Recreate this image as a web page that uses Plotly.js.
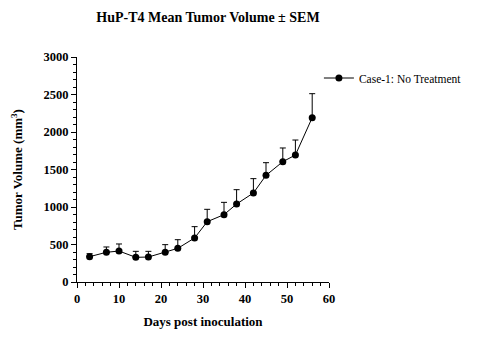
<!DOCTYPE html>
<html><head><meta charset="utf-8">
<script src="https://cdn.plot.ly/plotly-3.0.1.min.js"></script>
<style>html,body{margin:0;padding:0;background:#fff}</style>
</head><body>
<div id="chart" style="width:488px;height:352px"></div>
<script>
const days = [3, 7, 10, 14, 17, 21, 24, 28, 31, 35, 38, 42, 45, 49, 52, 56];
const meanVolume = [338, 396, 413, 329, 333, 396, 449, 587, 804, 898, 1040, 1187, 1422, 1604, 1693, 2191];
const semVolume = [40, 71, 94, 80, 76, 102, 115, 151, 165, 164, 191, 191, 169, 183, 200, 320];
const seriesName = 'Case-1: No Treatment';

const serif = 'Liberation Serif, Times New Roman, serif';
const trace = {
  x: days, y: meanVolume, name: seriesName, type: 'scatter', mode: 'lines+markers',
  line: {color: '#000', width: 1},
  marker: {color: '#000', size: 7, symbol: 'circle'},
  error_y: {type: 'data', array: semVolume, symmetric: false, arrayminus: semVolume.map(() => 0),
            color: '#000', thickness: 1, width: 3},
  showlegend: true
};
const layout = {
  width: 488, height: 352,
  margin: {l: 77, r: 159, t: 57, b: 70},
  paper_bgcolor: '#fff', plot_bgcolor: '#fff',
  font: {family: serif, color: '#000'},
  title: {text: '<b>HuP-T4 Mean Tumor Volume ± SEM</b>', font: {size: 14, family: serif, color: '#000'},
          x: 208/488, xanchor: 'center', y: 1 - 17/352, yanchor: 'middle'},
  xaxis: {range: [0, 60], dtick: 10, tick0: 0, showgrid: false, zeroline: false,
          showline: true, linecolor: '#000', linewidth: 1, ticks: 'outside', ticklen: 5, tickcolor: '#000',
          tickfont: {size: 12.5, family: serif}, tickprefix: '<b>', ticksuffix: '</b>',
          minor: {dtick: 2, ticks: 'outside', ticklen: 3, tickcolor: '#000', showgrid: false},
          title: {text: '<b>Days post inoculation</b>', font: {size: 13, family: serif}, standoff: 11}},
  yaxis: {range: [0, 3000], dtick: 500, tick0: 0, showgrid: false, zeroline: false,
          showline: true, linecolor: '#000', linewidth: 1, ticks: 'outside', ticklen: 5, tickcolor: '#000',
          tickfont: {size: 12.5, family: serif}, tickprefix: '<b>', ticksuffix: '</b>',
          minor: {dtick: 100, ticks: 'outside', ticklen: 3, tickcolor: '#000', showgrid: false},
          title: {text: '<b>Tumor Volume (mm<sup>3</sup>)</b>', font: {size: 13, family: serif}, standoff: 17}},
  legend: {x: 0.96, xanchor: 'left', y: 1 - 21/225, yanchor: 'middle', bgcolor: 'rgba(0,0,0,0)',
           font: {size: 11.5, family: serif, color: '#000'}}
};
Plotly.newPlot('chart', [trace], layout, {displayModeBar: false, staticPlot: true});
</script>
</body></html>
